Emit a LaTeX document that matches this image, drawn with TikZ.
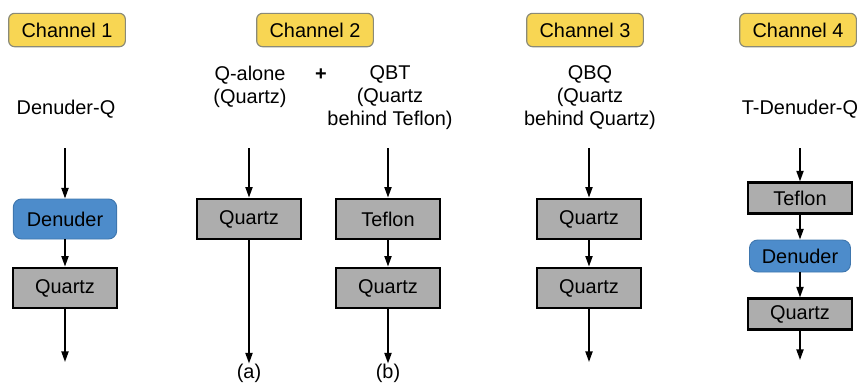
\documentclass[tikz,border=0pt]{standalone}
\usepackage{fontspec}
\setmainfont{Liberation Sans}
\usetikzlibrary{arrows.meta}
\definecolor{chyellow}{HTML}{F8D653}
\definecolor{chedge}{HTML}{8A8A78}
\definecolor{denblue}{HTML}{4D8CCB}
\definecolor{denedge}{HTML}{3E76AE}
\definecolor{filtgray}{HTML}{ADADAD}
\tikzset{
  txt/.style={font=\fontsize{17}{19.6}\selectfont, align=center, inner sep=0pt},
  chan/.style={txt, draw=chedge, fill=chyellow, rounded corners=5pt, line width=1pt,
    minimum width=3.5cm, minimum height=1.0cm},
  filt/.style={txt, draw=black, fill=filtgray, line width=1.8pt,
    minimum width=3.1cm, minimum height=1.22cm},
  den/.style={txt, draw=denedge, fill=denblue, rounded corners=7pt, line width=0.8pt,
    minimum width=3.1cm, minimum height=1.2cm},
  flow/.style={line width=1.5pt, -{Triangle[length=9pt,width=6pt]}}
}
\begin{document}
\begin{tikzpicture}[x=0.03cm,y=-0.03cm]
  \useasboundingbox (0,0) rectangle (862,384);
  % headers
  \node[chan] (ch1) at (67,30) {Channel 1};
  \node[chan] (ch2) at (315,30) {Channel 2};
  \node[chan] (ch3) at (585,30) {Channel 3};
  \node[chan] (ch4) at (798,30) {Channel 4};

  % channel 1
  \node[txt] (dq) at (66,109) {Denuder-Q};
  \coordinate (dqin) at (65,148);
  \node[den] (den1) at (65,219) {Denuder};
  \node[filt] (qz1) at (65,288) {Quartz};
  \coordinate (dqout) at (65,362);
  \draw[flow] (dqin) -- (den1);
  \draw[flow] (den1) -- (qz1);
  \draw[flow] (qz1) -- (dqout);

  % channel 2
  \node[txt] (qa) at (250,86.5) {Q-alone\\(Quartz)};
  \node[txt] (plus) at (321,75) {\textbf{+}};
  \node[txt] (qbt) at (390,98) {QBT\\(Quartz\\behind Teflon)};
  \coordinate (qain) at (249,148);
  \coordinate (qbtin) at (388,148);
  \node[filt] (qz2a) at (249,219) {Quartz};
  \node[filt] (tf2) at (388,219) {Teflon};
  \node[filt] (qz2b) at (388,288) {Quartz};
  \node[txt] (la) at (249,373) {(a)};
  \node[txt] (lb) at (388,373) {(b)};
  \draw[flow] (qain) -- (qz2a);
  \draw[flow] (qz2a) -- (la);
  \draw[flow] (qbtin) -- (tf2);
  \draw[flow] (tf2) -- (qz2b);
  \draw[flow] (qz2b) -- (lb);

  % channel 3
  \node[txt] (qbq) at (590,98) {QBQ\\(Quartz\\behind Quartz)};
  \coordinate (qbqin) at (589,148);
  \node[filt] (qz3a) at (589,219) {Quartz};
  \node[filt] (qz3b) at (589,288) {Quartz};
  \coordinate (qbqout) at (589,362);
  \draw[flow] (qbqin) -- (qz3a);
  \draw[flow] (qz3a) -- (qz3b);
  \draw[flow] (qz3b) -- (qbqout);

  % channel 4
  \node[txt] (tdq) at (800,109) {T-Denuder-Q};
  \coordinate (tdqin) at (800,148);
  \node[filt, minimum height=0.93cm] (tf4) at (800,198) {Teflon};
  \node[den, minimum width=3.03cm, minimum height=0.96cm] (den4) at (800,256) {Denuder};
  \node[filt, minimum height=0.93cm] (qz4) at (800,314) {Quartz};
  \coordinate (tdqout) at (800,360);
  \draw[flow] (tdqin) -- (tf4);
  \draw[flow] (tf4) -- (den4);
  \draw[flow] (den4) -- (qz4);
  \draw[flow] (qz4) -- (tdqout);
\end{tikzpicture}
\end{document}
